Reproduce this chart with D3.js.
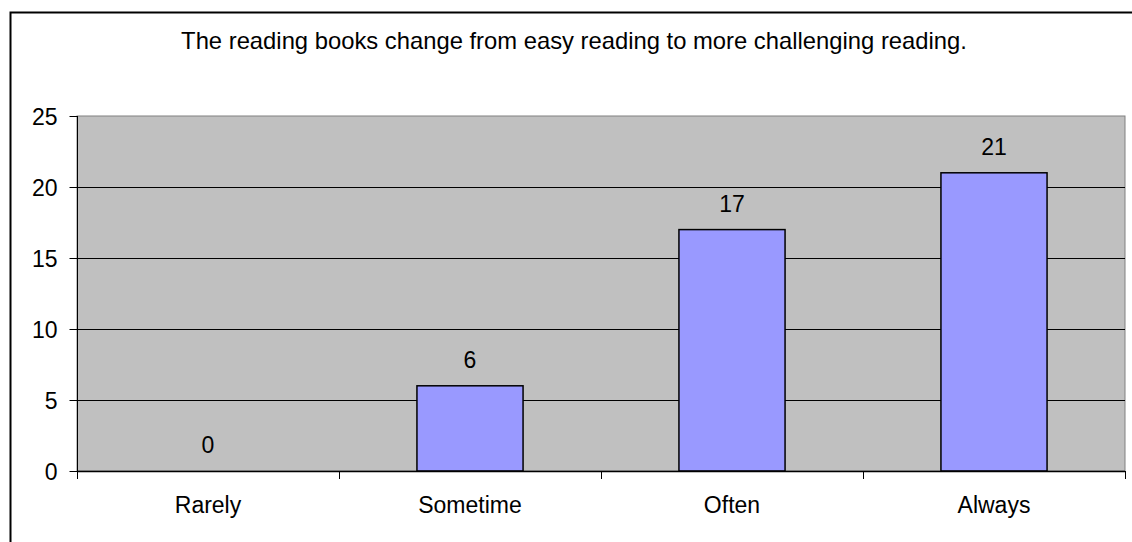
<!DOCTYPE html>
<html>
<head>
<meta charset="utf-8">
<script src="https://cdn.jsdelivr.net/npm/d3@7"></script>
<style>
  body { margin: 0; background: #fff; }
  svg { display: block; font-family: "Liberation Sans", Arial, sans-serif; }
</style>
</head>
<body>
<svg></svg>
<script>
var width = 1132;
var height = 542;

var title = "The reading books change from easy reading to more challenging reading.";
var categories = ["Rarely", "Sometime", "Often", "Always"];
var values = [0, 6, 17, 21];
var yTicks = [0, 5, 10, 15, 20, 25];

var fontSize = 23;
var plot = { left: 77, top: 116, right: 1125, bottom: 471 };

var svg = d3.select("svg")
              .attr("width", width)
              .attr("height", height);

// outer chart frame (runs off the right and bottom of the picture)
svg.append("rect")
  .attr("x", 10.5).attr("y", 12.5)
  .attr("width", 1130).attr("height", 540)
  .attr("fill", "#fff")
  .attr("stroke", "#000")
  .attr("stroke-width", 2);

svg.append("text")
  .attr("x", 574).attr("y", 49)
  .attr("text-anchor", "middle")
  .attr("font-size", 23.8)
  .attr("fill", "#000")
  .text(title);

var x = d3.scaleBand()
          .domain(categories)
          .range([plot.left, plot.right])
          .paddingInner(0.595)
          .paddingOuter(0.2975);

var xOuter = d3.scaleBand()
          .domain(categories)
          .range([plot.left, plot.right]);

var y = d3.scaleLinear()
          .domain([0, 25])
          .range([plot.bottom, plot.top]);

// plot area
svg.append("rect")
  .attr("x", plot.left).attr("y", plot.top)
  .attr("width", plot.right - plot.left)
  .attr("height", plot.bottom - plot.top)
  .attr("fill", "#c0c0c0")
  .attr("stroke", "#808080")
  .attr("stroke-width", 1);

// gridlines
svg.selectAll("line.grid")
  .data(yTicks.filter(d => d > 0 && d < 25))
  .enter()
  .append("line")
    .attr("class", "grid")
    .attr("x1", plot.left).attr("x2", plot.right)
    .attr("y1", d => Math.round(y(d)) + 0.5)
    .attr("y2", d => Math.round(y(d)) + 0.5)
    .attr("stroke", "#000")
    .attr("stroke-width", 1);

// bars
svg.selectAll("rect.bar")
  .data(values)
  .enter()
  .append("rect")
    .attr("class", "bar")
    .attr("x", (d, i) => x(categories[i]))
    .attr("y", d => y(d))
    .attr("width", x.bandwidth())
    .attr("height", d => y(0) - y(d))
    .attr("fill", "#9999ff")
    .attr("stroke", "#000")
    .attr("stroke-width", d => d > 0 ? 1.5 : 0);

// value labels
svg.selectAll("text.val")
  .data(values)
  .enter()
  .append("text")
    .attr("class", "val")
    .attr("x", (d, i) => x(categories[i]) + x.bandwidth() / 2)
    .attr("y", d => y(d) - 18)
    .attr("text-anchor", "middle")
    .attr("font-size", fontSize)
    .text(d => d);

// y axis
var yAxis = svg.append("g")
  .attr("transform", "translate(" + (plot.left + 0.5) + ",0)")
  .call(d3.axisLeft(y).tickValues(yTicks).tickSize(8).tickPadding(12));
yAxis.attr("font-size", null).attr("font-family", null);
yAxis.selectAll("text").attr("font-size", fontSize).attr("fill", "#000").attr("dy", "0.36em");
yAxis.selectAll("line").attr("stroke", "#000");
yAxis.select(".domain").attr("stroke", "#000").attr("d", "M0," + plot.top + "V" + plot.bottom);

// x axis line and ticks at category boundaries
svg.append("line")
  .attr("x1", plot.left).attr("x2", plot.right)
  .attr("y1", plot.bottom + 0.5).attr("y2", plot.bottom + 0.5)
  .attr("stroke", "#000").attr("stroke-width", 1.5);

var bounds = categories.map(c => xOuter(c)).concat([plot.right]);
svg.selectAll("line.xtick")
  .data(bounds)
  .enter()
  .append("line")
    .attr("class", "xtick")
    .attr("x1", d => Math.round(d) + 0.5).attr("x2", d => Math.round(d) + 0.5)
    .attr("y1", plot.bottom).attr("y2", plot.bottom + 8)
    .attr("stroke", "#000");

svg.selectAll("text.cat")
  .data(categories)
  .enter()
  .append("text")
    .attr("class", "cat")
    .attr("x", d => xOuter(d) + xOuter.bandwidth() / 2)
    .attr("y", 513)
    .attr("text-anchor", "middle")
    .attr("font-size", fontSize)
    .text(d => d);
</script>
</body>
</html>
